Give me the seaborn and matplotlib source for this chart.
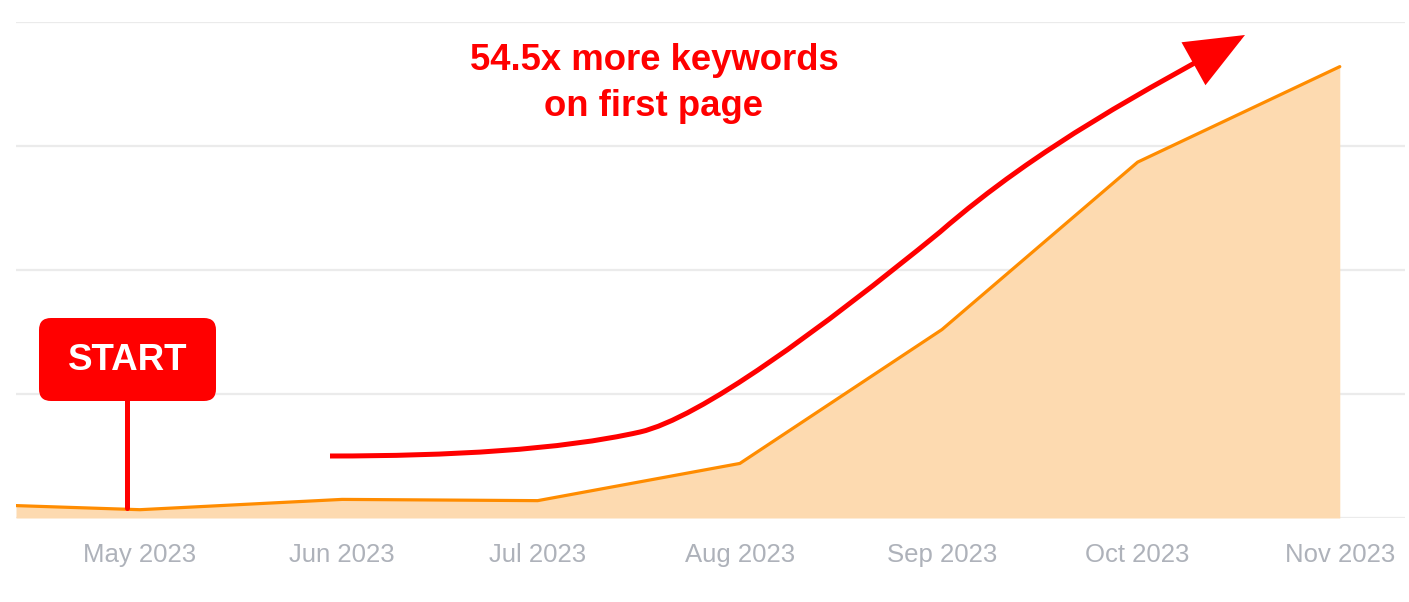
import matplotlib
matplotlib.use("Agg")
import matplotlib.pyplot as plt
import matplotlib.dates as mdates
from matplotlib.patches import FancyArrowPatch, FancyBboxPatch
from matplotlib.path import Path
from matplotlib.transforms import Affine2D
import pandas as pd
import seaborn as sns

# keywords on first page
dates = ["2023-04-12", "2023-05-01", "2023-06-01", "2023-07-01",
         "2023-08-01", "2023-09-01", "2023-10-01", "2023-11-01"]
keywords = [10, 6.7, 15, 14, 44, 152, 287, 364]
tick_dates = ["2023-05-01", "2023-06-01", "2023-07-01", "2023-08-01",
              "2023-09-01", "2023-10-01", "2023-11-01"]
grid_values = [0, 100, 200, 300, 400]

headline = "54.5x more keywords\non first page"
start_label = "START"

df = pd.DataFrame({"date": pd.to_datetime(dates), "keywords": keywords})

W, H = 1409, 602
sns.set_style("white")
plt.rcParams["font.family"] = ["Liberation Sans", "DejaVu Sans"]

fig = plt.figure(figsize=(W / 100, H / 100), dpi=100)
ax = fig.add_axes([16 / W, (H - 518) / H, (1405 - 16) / W, (518 - 22) / H])

line_color = "#FF8C00"
fill_color = "#FDDAB0"

ax.fill_between(df["date"], df["keywords"], 0, color=fill_color, lw=0, zorder=1)
sns.lineplot(data=df, x="date", y="keywords", color=line_color, lw=2.3, ax=ax, zorder=2)

ax.set_xlim(pd.Timestamp("2023-04-12"), pd.Timestamp("2023-11-11"))
ax.set_ylim(0, 400)
ax.set_yticks(grid_values)
ax.set_yticklabels([])
ax.yaxis.grid(True, color="#EBEBEB", lw=1.6, zorder=0)
ax.set_axisbelow(True)
ax.set_xticks(pd.to_datetime(tick_dates))
ax.xaxis.set_major_formatter(mdates.DateFormatter("%b %Y"))
ax.tick_params(axis="x", length=0, pad=18, labelsize=18.5, labelcolor="#AEB2BA")
ax.tick_params(axis="y", length=0)
ax.set_xlabel("")
ax.set_ylabel("")
for s in ax.spines.values():
    s.set_visible(False)

# pixel space of the picture, origin at top-left
px = Affine2D().scale(1, -1).translate(0, H)

# red growth arrow
verts = [(330, 456), (450, 456), (560, 450), (640, 432),
         (700, 418), (820, 330), (940, 232),
         (1040, 145), (1150, 88), (1245, 35)]
codes = [Path.MOVETO] + [Path.CURVE4] * 9
arrow = FancyArrowPatch(path=Path(verts, codes), transform=px,
                        arrowstyle="-|>,head_length=1.8,head_width=0.75",
                        mutation_scale=20, color="#FF0000", lw=3.6,
                        joinstyle="miter", capstyle="butt",
                        shrinkA=0, shrinkB=0, zorder=5)
fig.add_artist(arrow)

fig.text(654 / W, 1 - 83.5 / H, headline, ha="center", va="center",
         color="#FF0000", fontsize=26.3, fontweight="bold", linespacing=1.38)

# START marker
fig.add_artist(plt.Line2D([127, 127], [400, 508], transform=px,
                          color="#FF0000", lw=3.6, zorder=5))
box = FancyBboxPatch((39, 318), 177, 83, transform=px,
                     boxstyle="round,pad=0,rounding_size=12",
                     fc="#FF0000", ec="none", zorder=6)
fig.add_artist(box)
fig.text(127.5 / W, 1 - 360 / H, start_label, ha="center", va="center",
         color="white", fontsize=26.5, fontweight="bold", zorder=7)

fig.savefig("out.png", dpi=100)
